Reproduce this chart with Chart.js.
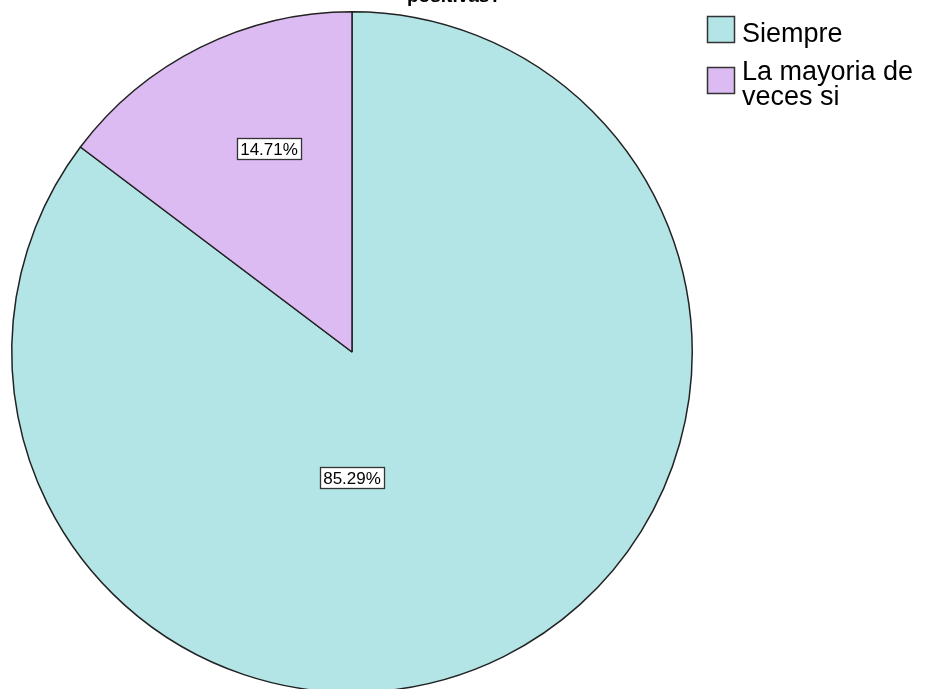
<!DOCTYPE html>
<html>
<head>
<meta charset="utf-8">
<script src="https://cdn.jsdelivr.net/npm/chart.js@4.4.0/dist/chart.umd.min.js"></script>
<style>
  html, body { margin: 0; padding: 0; background: #fff; overflow: hidden; }
  #wrap { width: 925px; height: 689px; overflow: hidden; }
</style>
</head>
<body>
<div id="wrap"><canvas id="pie" width="925" height="700"></canvas></div>
<script>
// categories and their share of responses (%)
var categories = ['Siempre', 'La mayoria de veces si'];
var percentages = [85.29, 14.71];
var sliceColors = ['#b3e5e7', '#dbbbf2'];
var titleText = 'positivas?';

// where each percentage box sits: angle from 12 o'clock (deg, clockwise) and fraction of radius
var labelAnchors = [
    { deg: 180, frac: 0.37 },
    { deg: -22.2, frac: 0.645 }
];

var FONT = '"Liberation Sans", Arial, sans-serif';

var titlePlugin = {
    id: 'spssTitle',
    afterDraw: function (chart) {
        var ctx = chart.ctx;
        ctx.save();
        ctx.fillStyle = '#000';
        ctx.font = 'bold 19px ' + FONT;
        ctx.textAlign = 'center';
        ctx.textBaseline = 'alphabetic';
        ctx.fillText(titleText, 454, 2);
        ctx.restore();
    }
};

var valueBoxPlugin = {
    id: 'valueBoxes',
    afterDatasetsDraw: function (chart) {
        var ctx = chart.ctx;
        var meta = chart.getDatasetMeta(0);
        var values = chart.data.datasets[0].data;
        ctx.save();
        ctx.font = '17px ' + FONT;
        ctx.textAlign = 'center';
        ctx.textBaseline = 'middle';
        meta.data.forEach(function (arc, i) {
            var a = labelAnchors[i];
            var rad = a.deg * Math.PI / 180;
            var r = arc.outerRadius * a.frac;
            var x = arc.x + Math.sin(rad) * r;
            var y = arc.y - Math.cos(rad) * r;
            var txt = values[i].toFixed(2) + '%';
            var w = Math.round(ctx.measureText(txt).width) + 6;
            var h = 21;
            var bx = Math.round(x - w / 2) + 0.5;
            var by = Math.round(y - h / 2) + 0.5;
            ctx.fillStyle = '#fff';
            ctx.fillRect(bx, by, w, h);
            ctx.strokeStyle = '#333';
            ctx.lineWidth = 1.3;
            ctx.strokeRect(bx, by, w, h);
            ctx.fillStyle = '#000';
            ctx.fillText(txt, Math.round(x), Math.round(y) + 1);
        });
        ctx.restore();
    }
};

var legendPlugin = {
    id: 'sideLegend',
    afterDraw: function (chart) {
        var ctx = chart.ctx;
        var ds = chart.data.datasets[0];
        var x0 = 707, textX = 742, maxW = 183, lineH = 25;
        var rowTops = [16, 67];
        ctx.save();
        ctx.font = '27px ' + FONT;
        ctx.textAlign = 'left';
        ctx.textBaseline = 'alphabetic';
        chart.data.labels.forEach(function (label, i) {
            var top = rowTops[i];
            ctx.fillStyle = ds.backgroundColor[i];
            ctx.fillRect(x0, top, 28, 27);
            ctx.strokeStyle = '#333';
            ctx.lineWidth = 1.5;
            ctx.strokeRect(x0 + 0.5, top + 0.5, 27, 26);

            // word wrap to the space right of the swatch
            var words = label.split(' ');
            var lines = [], cur = '';
            words.forEach(function (w) {
                var test = cur ? cur + ' ' + w : w;
                if (cur && ctx.measureText(test).width > maxW) {
                    lines.push(cur);
                    cur = w;
                } else {
                    cur = test;
                }
            });
            lines.push(cur);
            ctx.fillStyle = '#000';
            var base = i === 0 ? 42 : 80;
            lines.forEach(function (ln, k) {
                ctx.fillText(ln, textX, base + k * lineH);
            });
        });
        ctx.restore();
    }
};

new Chart(document.getElementById('pie'), {
    type: 'pie',
    data: {
        labels: categories,
        datasets: [{
            data: percentages,
            backgroundColor: sliceColors,
            borderColor: '#222',
            borderWidth: 1.5
        }]
    },
    options: {
        responsive: false,
        animation: false,
        layout: { padding: { top: 11, left: 11, right: 232, bottom: 7 } },
        plugins: {
            legend: { display: false },
            tooltip: { enabled: false },
            title: { display: false }
        }
    },
    plugins: [valueBoxPlugin, legendPlugin, titlePlugin]
});
</script>
</body>
</html>
